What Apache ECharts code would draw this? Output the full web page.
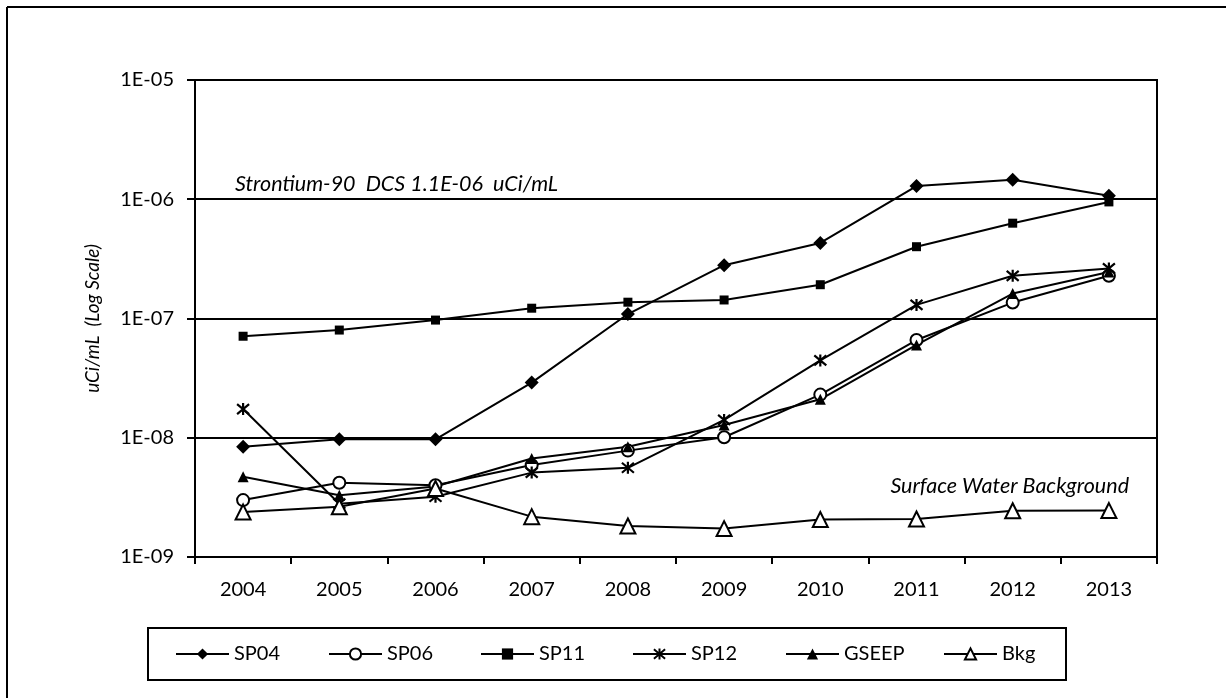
<!DOCTYPE html>
<html>
<head>
<meta charset="utf-8">
<script src="https://cdn.jsdelivr.net/npm/echarts@6/dist/echarts.min.js"></script>
<style>
html,body{margin:0;padding:0;background:#fff;}
#chart{width:1226px;height:698px;}
</style>
</head>
<body>
<div id="chart"></div>
<script>
const years = ['2004','2005','2006','2007','2008','2009','2010','2011','2012','2013'];
const SP04  = [8.4e-9, 9.7e-9, 9.7e-9, 2.9e-8, 1.09e-7, 2.8e-7, 4.3e-7, 1.29e-6, 1.46e-6, 1.07e-6];
const SP06  = [3.0e-9, 4.2e-9, 4.0e-9, 5.9e-9, 7.8e-9, 1.01e-8, 2.3e-8, 6.6e-8, 1.36e-7, 2.28e-7];
const SP11  = [7.1e-8, 8.0e-8, 9.7e-8, 1.22e-7, 1.37e-7, 1.43e-7, 1.92e-7, 4.0e-7, 6.3e-7, 9.5e-7];
const SP12  = [1.74e-8, 2.8e-9, 3.2e-9, 5.1e-9, 5.6e-9, 1.41e-8, 4.45e-8, 1.3e-7, 2.28e-7, 2.63e-7];
const GSEEP = [4.7e-9, 3.3e-9, 3.9e-9, 6.7e-9, 8.4e-9, 1.28e-8, 2.1e-8, 6.0e-8, 1.62e-7, 2.45e-7];
const Bkg   = [2.38e-9, 2.64e-9, 3.75e-9, 2.18e-9, 1.82e-9, 1.73e-9, 2.06e-9, 2.08e-9, 2.44e-9, 2.45e-9];
const yTickLabels = {'-9':'1E-09','-8':'1E-08','-7':'1E-07','-6':'1E-06','-5':'1E-05'};
const yAxisName = 'uCi/mL  (Log Scale)';
const dcsLabel = 'Strontium-90  DCS 1.1E-06  uCi/mL';
const bkgLabel = 'Surface Water Background';

const FONT = 'Lato';
const star = 'path://M0,0L10,10M10,0L0,10M5,-1L5,11';

function mk(name, data, symbol, size, fill, extra) {
  return Object.assign({
    name: name, type: 'line', data: data, symbol: symbol, symbolSize: size,
    showAllSymbol: true,
    lineStyle: {color: '#000', width: 2},
    itemStyle: {color: fill, borderColor: '#000', borderWidth: 2},
    emphasis: {disabled: true},
    animation: false
  }, extra || {});
}

const series = [
  mk('SP04', SP04, 'diamond', 14, '#000', {itemStyle:{color:'#000', borderColor:'#000', borderWidth:0}}),
  mk('SP06', SP06, 'circle', 12, '#fff'),
  mk('SP11', SP11, 'rect', 9, '#000', {itemStyle:{color:'#000', borderColor:'#000', borderWidth:0}}),
  mk('SP12', SP12, star, 12, 'none', {itemStyle:{color:'#000', borderColor:'#000', borderWidth:2.2}}),
  mk('GSEEP', GSEEP, 'triangle', 11, '#000', {itemStyle:{color:'#000', borderColor:'#000', borderWidth:0}}),
  mk('Bkg', Bkg, 'triangle', 15, '#fff')
];

const legendLefts = [175, 328, 480, 632, 785, 943];
const legends = series.map((s, i) => ({
  data: [s.name], left: legendLefts[i], top: 644, orient: 'horizontal',
  itemWidth: 53, itemHeight: 14, itemGap: 0, selectedMode: false, padding: 0,
  textStyle: {fontFamily: FONT, fontSize: 20, color: '#000'}
}));

const chart = echarts.init(document.getElementById('chart'), null, {renderer: 'canvas'});
chart.setOption({
  backgroundColor: '#fff',
  animation: false,
  legend: legends,
  grid: {left: 195, right: 69, top: 80, bottom: 141, show: true, borderColor: '#000', borderWidth: 2, containLabel: false},
  xAxis: {
    type: 'category', data: years, boundaryGap: true,
    axisLine: {lineStyle: {color: '#000', width: 2}},
    axisTick: {show: true, length: 7, lineStyle: {color: '#000', width: 2}},
    axisLabel: {fontFamily: FONT, fontSize: 20, color: '#000', margin: 23},
    splitLine: {show: false}
  },
  yAxis: {
    type: 'log', logBase: 10, min: 1e-9, max: 1e-5,
    name: yAxisName, nameLocation: 'middle', nameGap: 93, nameRotate: 90,
    nameTextStyle: {fontFamily: FONT, fontSize: 19, fontStyle: 'italic', color: '#000'},
    axisLine: {show: true, lineStyle: {color: '#000', width: 2}},
    axisTick: {show: true, length: 8, lineStyle: {color: '#000', width: 2}},
    axisLabel: {
      fontFamily: FONT, fontSize: 20, color: '#000', margin: 21,
      formatter: function (v) { const e = Math.round(Math.log10(v)); return yTickLabels[String(e)] || ''; }
    },
    splitLine: {show: true, lineStyle: {color: '#000', width: 2}},
    minorSplitLine: {show: false}
  },
  graphic: [
    {type: 'line', shape: {x1: 7, y1: 7, x2: 1226, y2: 7}, style: {stroke: '#000', lineWidth: 2}, silent: true},
    {type: 'line', shape: {x1: 7, y1: 7, x2: 7, y2: 698}, style: {stroke: '#000', lineWidth: 2}, silent: true},
    {type: 'rect', shape: {x: 148, y: 628, width: 918, height: 52}, style: {fill: 'none', stroke: '#000', lineWidth: 2}, silent: true, z: -1},
    {type: 'text', left: 235, top: 173, silent: true,
     style: {text: dcsLabel, fontFamily: FONT, fontSize: 21.5, fontStyle: 'italic', fill: '#000'}},
    {type: 'text', right: 1226 - 1129, top: 475, silent: true,
     style: {text: bkgLabel, fontFamily: FONT, fontSize: 21.5, fontStyle: 'italic', fill: '#000'}}
  ],
  series: series
});
</script>
</body>
</html>
